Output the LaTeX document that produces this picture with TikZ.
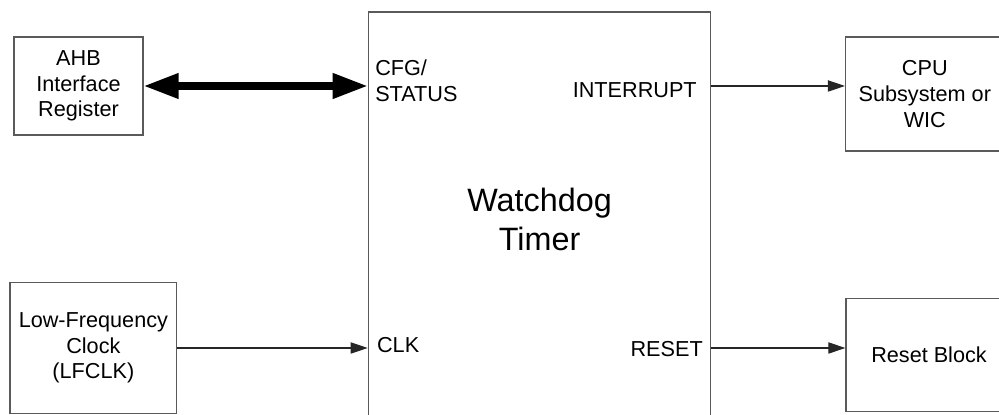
\documentclass[tikz,border=0pt]{standalone}
\usepackage{fontspec}
\setmainfont{Liberation Sans}
\usetikzlibrary{arrows.meta}
\definecolor{edgegray}{RGB}{90,90,90}

\begin{document}
\begin{tikzpicture}[
  blk/.style={draw=edgegray, line width=0.9pt, inner sep=0pt, align=center,
    font=\fontsize{15.4}{18.2}\selectfont},
  lbl/.style={inner sep=0pt, font=\fontsize{15.4}{18.2}\selectfont},
  sig/.style={draw=black!85, line width=0.8pt, -{Triangle[length=0.425cm,width=0.28cm]}},
  bus/.style={draw=black, line width=5pt,
    {Triangle[length=0.875cm,width=0.6cm]}-{Triangle[length=0.875cm,width=0.6cm]}}
]
\useasboundingbox (0,0) rectangle (24.975,10.375);
\clip (0,0) rectangle (24.975,10.375);
% blocks
\node[blk, minimum width=3.225cm, minimum height=2.45cm] (ahb) at (1.9625,8.225) {AHB\\Interface\\Register};
\node[blk, minimum width=4.1675cm, minimum height=3.265cm] (lfclk) at (2.334,1.675) {Low-Frequency\\Clock\\(LFCLK)};
\node[blk, minimum width=8.5625cm, minimum height=10.375cm,
  font=\fontsize{23}{27.5}\selectfont] (wdt) at (13.49,4.8875) {Watchdog\\Timer};
\node[blk, minimum width=3.96cm, minimum height=2.85cm] (cpu) at (23.12,8.025) {CPU\\Subsystem or\\WIC};
\node[blk, minimum width=4.15cm, minimum height=2.835cm] (rst) at (23.225,1.5) {Reset Block};
% port labels
\node[lbl, anchor=west, align=left] (cfg) at (9.375,8.36) {CFG/\\STATUS};
\node[lbl, anchor=base east] (intr) at (17.425,7.925) {INTERRUPT};
\node[lbl, anchor=west] (clk) at (9.42,1.75) {CLK};
\node[lbl, anchor=east] (rstout) at (17.575,1.65) {RESET};
% connections
\draw[bus] (ahb.east) -- (wdt.west |- ahb.east);
\draw[sig] (wdt.east |- ahb.east) -- (cpu.west |- ahb.east);
\draw[sig] (lfclk.east) -- (wdt.west |- lfclk.east);
\draw[sig] (wdt.east |- lfclk.east) -- (rst.west |- lfclk.east);
\end{tikzpicture}
\end{document}
